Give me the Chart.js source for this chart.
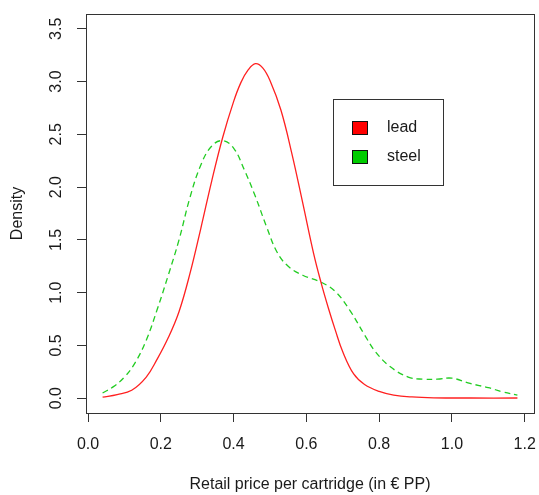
<!DOCTYPE html>
<html>
<head>
<meta charset="utf-8">
<script src="https://cdn.jsdelivr.net/npm/chart.js@4/dist/chart.umd.min.js"></script>
<style>
  html, body { margin: 0; padding: 0; background: #fff; }
  #wrap { width: 539px; height: 495px; position: relative; }
</style>
</head>
<body>
<div id="wrap"><canvas id="chartDensidad"></canvas></div>
<script>
// valores (densidad por precio)
const leadX = [0.04, 0.08, 0.12, 0.16, 0.19, 0.22, 0.25, 0.28, 0.31, 0.34, 0.37, 0.40, 0.42, 0.44, 0.46, 0.48, 0.50, 0.53, 0.56, 0.59, 0.62, 0.64, 0.66, 0.68, 0.70, 0.73, 0.76, 0.80, 0.84, 0.89, 0.95, 1.05, 1.18];
const leadY = [0.01, 0.035, 0.075, 0.20, 0.37, 0.57, 0.82, 1.18, 1.61, 2.06, 2.47, 2.81, 2.99, 3.11, 3.17, 3.13, 3.01, 2.73, 2.32, 1.85, 1.37, 1.10, 0.86, 0.64, 0.44, 0.23, 0.13, 0.065, 0.03, 0.012, 0.004, 0.002, 0.002];

const steelX = [0.04, 0.07, 0.10, 0.13, 0.16, 0.19, 0.22, 0.25, 0.28, 0.31, 0.34, 0.37, 0.40, 0.43, 0.46, 0.49, 0.52, 0.55, 0.59, 0.64, 0.68, 0.72, 0.76, 0.79, 0.83, 0.88, 0.92, 0.96, 1.00, 1.05, 1.10, 1.14, 1.18];
const steelY = [0.05, 0.11, 0.20, 0.34, 0.55, 0.84, 1.16, 1.50, 1.90, 2.21, 2.39, 2.44, 2.37, 2.16, 1.91, 1.63, 1.38, 1.25, 1.165, 1.10, 1.01, 0.83, 0.60, 0.44, 0.30, 0.20, 0.18, 0.18, 0.19, 0.14, 0.10, 0.06, 0.03];

const xTicks = [0.0, 0.2, 0.4, 0.6, 0.8, 1.0, 1.2];
const yTicks = [0.0, 0.5, 1.0, 1.5, 2.0, 2.5, 3.0, 3.5];
const xTitle = 'Retail price per cartridge (in € PP)';
const yTitle = 'Density';

const FUENTE = '16px "Liberation Sans", Arial, sans-serif';
const TINTA = '#1a1a1a';

// ejes, textos, caja y leyenda estilo R
const marcoR = {
    id: 'marcoR',
    afterDraw(chart) {
        const ctx = chart.ctx;
        const a = chart.chartArea;
        const xs = chart.scales.x, ys = chart.scales.y;
        ctx.save();
        ctx.strokeStyle = '#333';
        ctx.lineWidth = 1;
        ctx.strokeRect(Math.round(a.left) + 0.5, Math.round(a.top) + 0.5,
            Math.round(a.right - a.left), Math.round(a.bottom - a.top));

        ctx.fillStyle = TINTA;
        ctx.font = FUENTE;
        ctx.textAlign = 'center';
        ctx.textBaseline = 'middle';
        xTicks.forEach(v => ctx.fillText(v.toFixed(1), xs.getPixelForValue(v), a.bottom + 32));
        yTicks.forEach(v => {
            ctx.save();
            ctx.translate(a.left - 29, ys.getPixelForValue(v));
            ctx.rotate(-Math.PI / 2);
            ctx.fillText(v.toFixed(1), 0, 0);
            ctx.restore();
        });

        ctx.fillText(xTitle, (a.left + a.right) / 2, a.bottom + 72);
        ctx.save();
        ctx.translate(18, (a.top + a.bottom) / 2);
        ctx.rotate(-Math.PI / 2);
        ctx.fillText(yTitle, 0, 0);
        ctx.restore();

        // leyenda
        ctx.strokeStyle = '#333';
        ctx.strokeRect(333.5, 99.5, 110, 86);
        ctx.textAlign = 'left';
        chart.data.datasets.forEach((d, i) => {
            const y = 121 + i * 29;
            ctx.fillStyle = d.legendFill;
            ctx.fillRect(352, y, 16, 14);
            ctx.strokeStyle = '#111';
            ctx.strokeRect(352.5, y + 0.5, 15, 13);
            ctx.fillStyle = TINTA;
            ctx.fillText(d.label, 387, y + 7);
        });
        ctx.restore();
    }
};

const ctx = document.getElementById('chartDensidad').getContext('2d');
new Chart(ctx, {
    type: 'line',
    data: {
        datasets: [{
            label: 'lead',
            data: leadX.map((x, i) => ({ x, y: leadY[i] })),
            borderColor: '#ff2020',
            legendFill: '#ff0000',
            borderWidth: 1.3,
            pointRadius: 0,
            tension: 0.4,
            fill: false
        }, {
            label: 'steel',
            data: steelX.map((x, i) => ({ x, y: steelY[i] })),
            borderColor: '#22cc22',
            legendFill: '#00cd00',
            borderWidth: 1.3,
            borderDash: [6, 4],
            pointRadius: 0,
            tension: 0.4,
            fill: false
        }]
    },
    options: {
        responsive: true,
        maintainAspectRatio: false,
        animation: false,
        layout: { padding: { top: 14, right: 5, left: 0, bottom: 0 } },
        plugins: { legend: { display: false }, tooltip: { enabled: false } },
        scales: {
            x: {
                type: 'linear',
                min: -0.0056,
                max: 1.2256,
                afterBuildTicks: s => { s.ticks = xTicks.map(v => ({ value: v })); },
                afterFit: s => { s.height = 82; },
                ticks: { display: false },
                border: { display: false },
                grid: { drawOnChartArea: false, drawTicks: true, tickLength: 9, color: '#333', tickColor: '#333' }
            },
            y: {
                min: -0.14,
                max: 3.64,
                afterBuildTicks: s => { s.ticks = yTicks.map(v => ({ value: v })); },
                afterFit: s => { s.width = 86; },
                ticks: { display: false },
                border: { display: false },
                grid: { drawOnChartArea: false, drawTicks: true, tickLength: 9, color: '#333', tickColor: '#333' }
            }
        }
    },
    plugins: [marcoR]
});
</script>
</body>
</html>
